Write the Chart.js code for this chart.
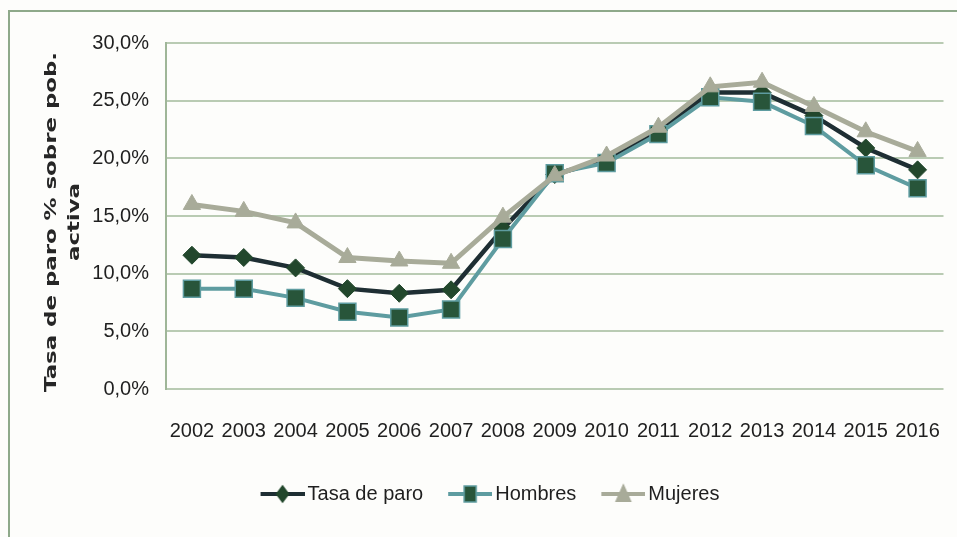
<!DOCTYPE html>
<html>
<head>
<meta charset="utf-8">
<script src="https://cdn.jsdelivr.net/npm/chart.js@4/dist/chart.umd.min.js"></script>
<style>
  html, body { margin: 0; padding: 0; background: #fdfdfb; }
  #wrap { position: relative; width: 957px; height: 537px; }
  #frame { position: absolute; left: 8px; top: 10px; right: 0; bottom: 0;
           border-top: 2px solid #8ea98a; border-left: 2px solid #8ea98a; pointer-events: none; }
  canvas { position: absolute; left: 0; top: 0; }
</style>
</head>
<body>
<div id="wrap">
  <canvas id="c" width="957" height="537"></canvas>
  <div id="frame"></div>
</div>
<script>
const years = ['2002','2003','2004','2005','2006','2007','2008','2009','2010','2011','2012','2013','2014','2015','2016'];
const tasaDeParo = [11.6, 11.4, 10.5, 8.7, 8.3, 8.6, 13.9, 18.6, 19.9, 22.4, 25.7, 25.7, 23.7, 20.9, 19.0];
const hombres    = [8.7, 8.7, 7.9, 6.7, 6.2, 6.9, 13.0, 18.7, 19.6, 22.1, 25.3, 24.9, 22.8, 19.4, 17.4];
const mujeres    = [16.0, 15.4, 14.4, 11.4, 11.1, 10.9, 14.9, 18.5, 20.2, 22.7, 26.2, 26.6, 24.5, 22.3, 20.6];
const yTicks = [0, 5, 10, 15, 20, 25, 30];
const yTitle = ['Tasa de paro % sobre pob.', 'activa'];
const seriesNames = ['Tasa de paro', 'Hombres', 'Mujeres'];

const FONT = "'Liberation Sans', Arial, sans-serif";
const colTasa = '#1e2e33', fillTasa = '#22472c';
const colHom = '#5e9ca0', fillHom = '#28553a';
const colMuj = '#a8ab99';

function legendIcon(lineColor, style, fill, stroke, r) {
  const c = document.createElement('canvas');
  c.width = 66; c.height = 24;
  const ctx = c.getContext('2d');
  const cx = 44, cy = 12;
  ctx.strokeStyle = lineColor; ctx.lineWidth = 4;
  ctx.beginPath(); ctx.moveTo(22, cy); ctx.lineTo(66, cy); ctx.stroke();
  ctx.fillStyle = fill; ctx.strokeStyle = stroke; ctx.lineWidth = 1.5;
  ctx.beginPath();
  if (style === 'diamond') {
    ctx.moveTo(cx, cy - r); ctx.lineTo(cx + r * 0.75, cy); ctx.lineTo(cx, cy + r); ctx.lineTo(cx - r * 0.75, cy); ctx.closePath();
  } else if (style === 'rect') {
    ctx.rect(cx - r * 0.75, cy - r, r * 1.5, r * 2);
  } else {
    ctx.moveTo(cx, cy - r); ctx.lineTo(cx + r * 0.8, cy + r * 0.8); ctx.lineTo(cx - r * 0.8, cy + r * 0.8); ctx.closePath();
  }
  ctx.fill(); ctx.stroke();
  return c;
}
const icons = [
  legendIcon(colTasa, 'diamond', fillTasa, fillTasa, 8),
  legendIcon(colHom, 'rect', fillHom, colHom, 8),
  legendIcon(colMuj, 'tri', colMuj, colMuj, 9)
];

const yTitlePlugin = {
  id: 'yTitlePlugin',
  afterDraw(chart) {
    const ctx = chart.ctx;
    ctx.save();
    ctx.font = "bold 16px 'DejaVu Sans', sans-serif";
    ctx.fillStyle = '#262626';
    ctx.textAlign = 'center';
    ctx.textBaseline = 'middle';
    const w = ctx.measureText(yTitle[0]).width;
    const sx = 340 / w;
    const cy = (chart.chartArea.top + chart.chartArea.bottom) / 2 + 6;
    [52, 75].forEach((x, i) => {
      ctx.save();
      ctx.translate(x, cy);
      ctx.rotate(-Math.PI / 2);
      ctx.scale(sx, 1);
      ctx.fillText(yTitle[i], 0, 0);
      ctx.restore();
    });
    ctx.restore();
  }
};

new Chart(document.getElementById('c'), {
  type: 'line',
  data: {
    labels: years,
    datasets: [
      { label: seriesNames[0], data: tasaDeParo, borderColor: colTasa, borderWidth: 4.5,
        pointStyle: 'rectRot', pointRadius: 9, pointBackgroundColor: fillTasa, pointBorderColor: fillTasa,
        pointBorderWidth: 1, tension: 0, order: 3 },
      { label: seriesNames[1], data: hombres, borderColor: colHom, borderWidth: 4,
        pointStyle: 'rect', pointRadius: 12, pointBackgroundColor: fillHom, pointBorderColor: colHom,
        pointBorderWidth: 1.5, tension: 0, order: 2 },
      { label: seriesNames[2], data: mujeres, borderColor: colMuj, borderWidth: 5,
        pointStyle: 'triangle', pointRadius: 10, pointBackgroundColor: colMuj, pointBorderColor: colMuj,
        pointBorderWidth: 1, tension: 0, order: 1 }
    ]
  },
  options: {
    responsive: false,
    animation: false,
    devicePixelRatio: 1,
    layout: { padding: { top: 43, right: 12, bottom: 23, left: 20 } },
    scales: {
      x: {
        offset: true,
        grid: { display: false, drawTicks: false },
        border: { display: false },
        ticks: { color: '#1f1f1f', font: { family: FONT, size: 20 }, padding: 30, maxRotation: 0, autoSkip: false },
        afterFit(s) { s.height = 85; s.paddingLeft = 0; s.paddingRight = 0; }
      },
      y: {
        min: 0, max: 30,
        afterBuildTicks(s) { s.ticks = yTicks.map(v => ({ value: v })); },
        grid: { color: '#b9cbb3', lineWidth: 2, drawTicks: false },
        border: { display: true, color: '#9fb698', width: 2 },
        ticks: { color: '#1f1f1f', font: { family: FONT, size: 20 }, padding: 17,
                 callback: v => v.toFixed(1).replace('.', ',') + '%' },
        afterFit(s) { s.width = 146; }
      }
    },
    plugins: {
      legend: {
        position: 'bottom',
        labels: {
          usePointStyle: true,
          pointStyleWidth: 52,
          color: '#1f1f1f',
          font: { family: FONT, size: 20 },
          padding: 10,
          generateLabels: () => seriesNames.map((n, i) => ({
            text: n, pointStyle: icons[i], fillStyle: 'transparent', strokeStyle: 'transparent',
            lineWidth: 0, hidden: false, datasetIndex: i, fontColor: '#1f1f1f'
          }))
        }
      },
      tooltip: { enabled: false }
    }
  },
  plugins: [yTitlePlugin]
});
</script>
</body>
</html>
